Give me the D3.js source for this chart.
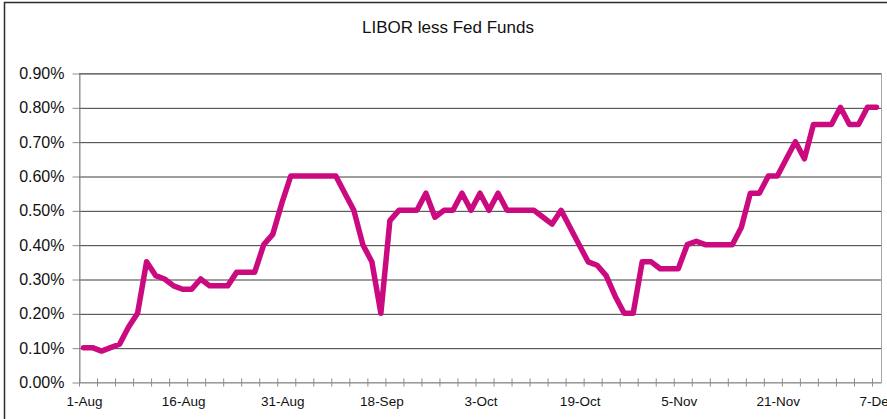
<!DOCTYPE html>
<html>
<head>
<meta charset="utf-8">
<script src="https://cdn.jsdelivr.net/npm/d3@7"></script>
<style>
	body { margin: 0; background: #fff; }
	svg { display: block; font-family: "Liberation Sans", Arial, sans-serif; }
</style>
</head>
<body>
<script>

// SVG Size
var width = 887,
	height = 419;

// trading days (US holidays dropped)
var dates = [
	"1-Aug", "2-Aug", "3-Aug", "6-Aug", "7-Aug", "8-Aug", "9-Aug", "10-Aug", "13-Aug", "14-Aug",
	"15-Aug", "16-Aug", "17-Aug", "20-Aug", "21-Aug", "22-Aug", "23-Aug", "24-Aug", "27-Aug", "28-Aug",
	"29-Aug", "30-Aug", "31-Aug",
	"4-Sep", "5-Sep", "6-Sep", "7-Sep", "10-Sep", "11-Sep", "12-Sep", "13-Sep", "14-Sep", "17-Sep",
	"18-Sep", "19-Sep", "20-Sep", "21-Sep", "24-Sep", "25-Sep", "26-Sep", "27-Sep", "28-Sep",
	"1-Oct", "2-Oct", "3-Oct", "4-Oct", "5-Oct", "9-Oct", "10-Oct", "11-Oct", "12-Oct", "15-Oct",
	"16-Oct", "17-Oct", "18-Oct", "19-Oct", "22-Oct", "23-Oct", "24-Oct", "25-Oct", "26-Oct", "29-Oct",
	"30-Oct", "31-Oct",
	"1-Nov", "2-Nov", "5-Nov", "6-Nov", "7-Nov", "8-Nov", "9-Nov", "13-Nov", "14-Nov", "15-Nov",
	"16-Nov", "19-Nov", "20-Nov", "21-Nov", "23-Nov", "26-Nov", "27-Nov", "28-Nov", "29-Nov", "30-Nov",
	"3-Dec", "4-Dec", "5-Dec", "6-Dec", "7-Dec"
];

// LIBOR minus Fed Funds, in percent
var spread = [
	0.10, 0.10, 0.09, 0.10, 0.11, 0.16, 0.20, 0.35, 0.31, 0.30,
	0.28, 0.27, 0.27, 0.30, 0.28, 0.28, 0.28, 0.32, 0.32, 0.32,
	0.40, 0.43, 0.52,
	0.60, 0.60, 0.60, 0.60, 0.60, 0.60, 0.55, 0.50, 0.40, 0.35,
	0.20, 0.47, 0.50, 0.50, 0.50, 0.55, 0.48, 0.50, 0.50,
	0.55, 0.50, 0.55, 0.50, 0.55, 0.50, 0.50, 0.50, 0.50, 0.48,
	0.46, 0.50, 0.45, 0.40, 0.35, 0.34, 0.31, 0.25, 0.20, 0.20,
	0.35, 0.35,
	0.33, 0.33, 0.33, 0.40, 0.41, 0.40, 0.40, 0.40, 0.40, 0.45,
	0.55, 0.55, 0.60, 0.60, 0.65, 0.70, 0.65, 0.75, 0.75, 0.75,
	0.80, 0.75, 0.75, 0.80, 0.80
];

var xLabels = ["1-Aug", "16-Aug", "31-Aug", "18-Sep", "3-Oct", "19-Oct", "5-Nov", "21-Nov", "7-Dec"];
var yTicks = [0, 0.1, 0.2, 0.3, 0.4, 0.5, 0.6, 0.7, 0.8, 0.9];

var plot = {left: 79, right: 881, top: 73, bottom: 382};

var svg = d3.select("body").append("svg")
	.attr("width", width)
	.attr("height", height);

// outer chart border (cropped at right / bottom)
svg.append("rect")
	.attr("x", 4.5)
	.attr("y", 2.5)
	.attr("width", 920)
	.attr("height", 440)
	.attr("fill", "none")
	.attr("stroke", "#2b2b2b")
	.attr("stroke-width", 1.5);

svg.append("text")
	.attr("x", 448)
	.attr("y", 33)
	.attr("text-anchor", "middle")
	.style("font-size", "17px")
	.attr("fill", "#111")
	.text("LIBOR less Fed Funds");

// scales
var x = d3.scaleBand()
	.domain(dates)
	.range([plot.left, plot.right]);

var xEdge = d3.scaleLinear()
	.domain([0, dates.length])
	.range([plot.left, plot.right]);

var y = d3.scaleLinear()
	.domain([0, 0.9])
	.range([plot.bottom, plot.top]);

// plot area border
svg.append("rect")
	.attr("x", plot.left + 0.5)
	.attr("y", plot.top + 0.5)
	.attr("width", plot.right - plot.left)
	.attr("height", plot.bottom - plot.top)
	.attr("fill", "none")
	.attr("stroke", "#a6a6a6");

// gridlines
var grid = svg.append("g")
	.attr("transform", "translate(" + plot.left + ",0.5)")
	.call(d3.axisLeft(y).tickValues(yTicks.slice(1)).tickSize(-(plot.right - plot.left)).tickFormat(""));
grid.select(".domain").remove();
grid.selectAll("line").attr("stroke", "#3c3c3c");

// y axis
var yAxis = svg.append("g")
	.attr("class", "axis yAxis")
	.attr("transform", "translate(" + (plot.left + 0.5) + ",0.5)")
	.call(d3.axisLeft(y).tickValues(yTicks).tickSize(7).tickSizeOuter(0).tickPadding(8)
		.tickFormat(function(d) { return d3.format(".2f")(d) + "%"; }));
yAxis.select(".domain").attr("stroke", "#8c8c8c");
yAxis.selectAll(".tick line").attr("stroke", "#8c8c8c");
yAxis.selectAll("text")
	.style("font-size", "16px")
	.attr("fill", "#111");

// x axis: cross tick marks every 2 categories
var xTicks = svg.append("g")
	.attr("class", "axis xAxis")
	.attr("transform", "translate(0," + (plot.bottom + 0.5) + ")")
	.call(d3.axisBottom(xEdge).tickValues(d3.range(0, dates.length, 2)).tickSizeOuter(0).tickFormat(""));
xTicks.select(".domain").attr("stroke", "#8c8c8c");
xTicks.selectAll(".tick line")
	.attr("y1", -4)
	.attr("y2", 4)
	.attr("stroke", "#8c8c8c");

var xAxis = svg.append("g")
	.attr("transform", "translate(0," + plot.bottom + ")")
	.call(d3.axisBottom(x).tickValues(xLabels).tickSize(0).tickPadding(14));
xAxis.select(".domain").remove();
xAxis.selectAll("text")
	.attr("dx", 1)
	.style("font-size", "13.5px")
	.attr("fill", "#111");

// the spread line
var line = d3.line()
	.x(function(d, i) { return x(dates[i]) + x.bandwidth() / 2; })
	.y(function(d) { return y(d); });

svg.append("path")
	.datum(spread)
	.attr("d", line)
	.attr("fill", "none")
	.attr("stroke", "#cc0a80")
	.attr("stroke-width", 5.5)
	.attr("stroke-linejoin", "round")
	.attr("stroke-linecap", "round");

</script>
</body>
</html>
